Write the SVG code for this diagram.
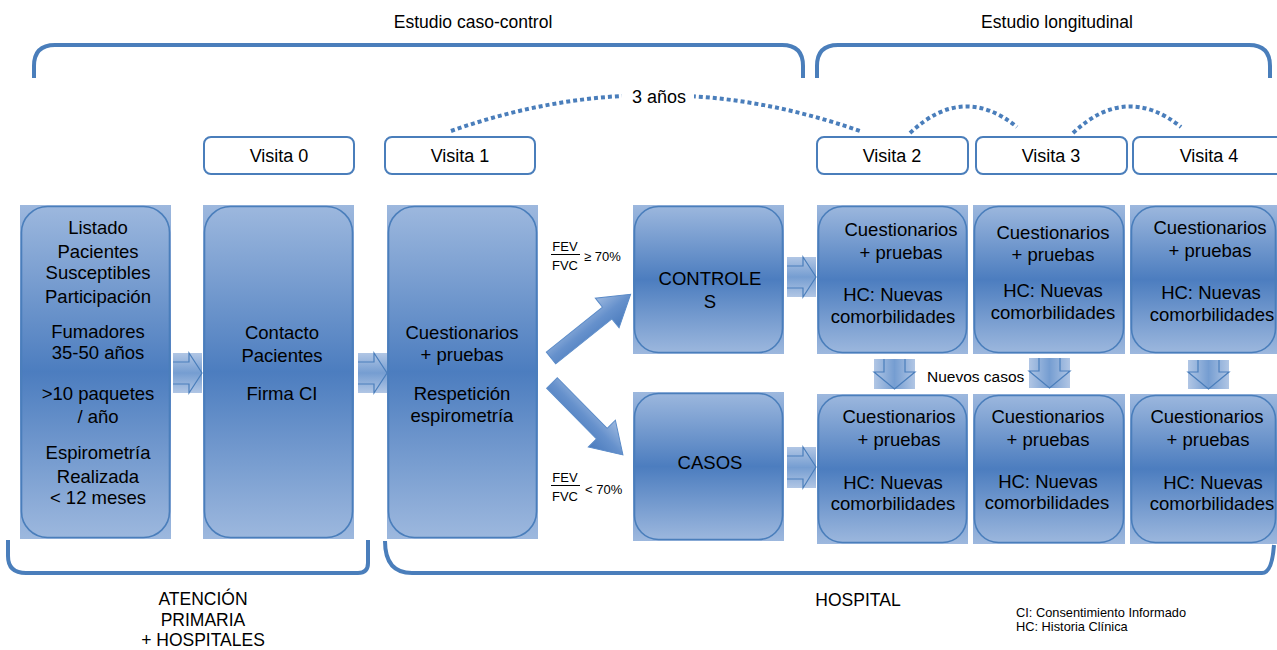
<svg xmlns="http://www.w3.org/2000/svg" width="1277" height="650" viewBox="0 0 1277 650">
<defs>
<linearGradient id="gBox" x1="0" y1="0" x2="0" y2="1">
<stop offset="0" stop-color="#9db8de"/>
<stop offset="0.5" stop-color="#4c7dbf"/>
<stop offset="1" stop-color="#9db8de"/>
</linearGradient>
<linearGradient id="gArr" x1="0" y1="0" x2="0" y2="1">
<stop offset="0" stop-color="#a3bce0"/>
<stop offset="0.5" stop-color="#5d8cc9"/>
<stop offset="1" stop-color="#a3bce0"/>
</linearGradient>
<linearGradient id="gArrH" x1="0" y1="0" x2="1" y2="0">
<stop offset="0" stop-color="#a3bce0"/>
<stop offset="0.5" stop-color="#5d8cc9"/>
<stop offset="1" stop-color="#a3bce0"/>
</linearGradient>
<linearGradient id="gBig" x1="0" y1="0" x2="0" y2="1">
<stop offset="0" stop-color="#9fbae0"/>
<stop offset="0.5" stop-color="#6691cc"/>
<stop offset="1" stop-color="#4a7bbd"/>
</linearGradient>
</defs>
<style>
text{font-family:"Liberation Sans",Arial,sans-serif;fill:#000}
.t{font-size:18.5px;text-anchor:middle}
.h{font-size:17.5px;text-anchor:middle}
.v{font-size:18px;text-anchor:middle}
.s{font-size:13px}
.sc{font-size:13px;text-anchor:middle}
.leg{font-size:12.8px}
.bg{fill:url(#gBox)}
.rr{fill:none;stroke:#4a7ebb;stroke-width:1.6}
.lab{fill:#fff;stroke:#4a7ebb;stroke-width:2}
.br{fill:none;stroke:#4a7ebb;stroke-width:4;stroke-linecap:butt}
.dot{fill:none;stroke:#4a7ebb;stroke-width:4;stroke-dasharray:4 3}
.sq{fill:url(#gArr);opacity:0.85}
.sqh{fill:url(#gArrH);opacity:0.85}
.ao{fill:none;stroke:#4a7ebb;stroke-width:1.2}
.big{fill:url(#gBig);stroke:#5b8bc8;stroke-width:1}
.fl{stroke:#000;stroke-width:1}
</style>

<!-- header texts -->
<text class="h" x="473" y="28">Estudio caso-control</text>
<text class="h" x="1057" y="28">Estudio longitudinal</text>

<g id="brackets">
<path class="br" d="M34 78 V66 Q34 45 55 45 H782 Q803 45 803 66 V78"/>
<path class="br" d="M817 78 V66 Q817 45 838 45 H1249 Q1270 45 1270 66 V78"/>
<path class="br" d="M8 540 V556 Q8 573 26 573 H358 Q368 573 368 563 V540"/>
<path class="br" d="M385 541 Q385 573 412 573 H1262 Q1272 573 1274 545"/>
</g>

<g id="connectors">
<path class="dot" d="M451 131 Q655 59 860 131"/>
<rect x="622" y="86" width="72" height="24" fill="#fff"/>
<path class="dot" d="M910 133 Q963 83 1017 127"/>
<path class="dot" d="M1073 133 Q1126 83 1181 127"/>
<!-- right block arrows -->
<g id="a1"><rect class="sq" x="173" y="353" width="29" height="40"/><path class="ao" d="M173 362 H189 V353 L202 373 L189 393 V384 H173"/></g>
<g id="a2"><rect class="sq" x="358" y="353" width="29" height="40"/><path class="ao" d="M358 362 H374 V353 L387 373 L374 393 V384 H358"/></g>
<g id="a3"><rect class="sq" x="787" y="257" width="29" height="40"/><path class="ao" d="M787 266 H803 V257 L816 277 L803 297 V288 H787"/></g>
<g id="a4"><rect class="sq" x="787" y="447" width="29" height="41"/><path class="ao" d="M787 456 H803 V447 L816 467 L803 488 V479 H787"/></g>
<!-- down block arrows -->
<g id="d1"><rect class="sqh" x="874" y="359" width="41" height="30"/><path class="ao" d="M884 359 V372 H874 L894.5 389 L915 372 H905 V359"/></g>
<g id="d2"><rect class="sqh" x="1029" y="358" width="41" height="30"/><path class="ao" d="M1039 358 V371 H1029 L1049.5 388 L1070 371 H1060 V358"/></g>
<g id="d3"><rect class="sqh" x="1188" y="360" width="41" height="29"/><path class="ao" d="M1198 360 V372 H1188 L1208.5 389 L1229 372 H1219 V360"/></g>
<!-- big diagonal arrows -->
<path class="big" transform="translate(551,358) rotate(-38.7)" d="M0 -7.5 H72 V-19 L102 0 L72 19 V7.5 H0 Z"/>
<path class="big" transform="translate(552,383) rotate(45.4)" d="M0 -7.5 H71 V-19 L101 0 L71 19 V7.5 H0 Z"/>
</g>

<text class="v" x="659" y="103">3 años</text>
<text x="927" y="382" style="font-size:15.5px">Nuevos casos</text>

<!-- fractions -->
<g id="frac1">
<text class="sc" x="565" y="251">FEV</text>
<line class="fl" x1="551" y1="254.5" x2="580" y2="254.5"/>
<text class="sc" x="565" y="270">FVC</text>
<text class="s" x="584" y="261">≥ 70%</text>
</g>
<g id="frac2">
<text class="sc" x="565" y="482">FEV</text>
<line class="fl" x1="551" y1="485.5" x2="580" y2="485.5"/>
<text class="sc" x="565" y="501">FVC</text>
<text class="s" x="585" y="494">&lt; 70%</text>
</g>

<!-- visit labels -->
<g id="v0"><rect class="lab" x="204" y="137" width="150" height="37" rx="7"/><text class="v" x="279" y="162">Visita 0</text></g>
<g id="v1"><rect class="lab" x="385" y="137" width="150" height="37" rx="7"/><text class="v" x="460" y="162">Visita 1</text></g>
<g id="v2"><rect class="lab" x="817" y="137" width="151" height="37" rx="7"/><text class="v" x="892" y="162">Visita 2</text></g>
<g id="v3"><rect class="lab" x="976" y="137" width="151" height="37" rx="7"/><text class="v" x="1051" y="162">Visita 3</text></g>
<g id="v4"><rect class="lab" x="1133" y="137" width="155" height="37" rx="7"/><text class="v" x="1209" y="162">Visita 4</text></g>

<!-- main boxes -->
<g id="listado">
<rect class="bg" x="20" y="205" width="151" height="334"/>
<rect class="rr" x="21.5" y="206.5" width="148" height="331" rx="26"/>
<text class="t" x="98" y="234">Listado</text>
<text class="t" x="98" y="258">Pacientes</text>
<text class="t" x="98" y="279">Susceptibles</text>
<text class="t" x="98" y="303">Participación</text>
<text class="t" x="98" y="338">Fumadores</text>
<text class="t" x="98" y="359">35-50 años</text>
<text class="t" x="98" y="400">&gt;10 paquetes</text>
<text class="t" x="98" y="423">/ año</text>
<text class="t" x="98" y="459">Espirometría</text>
<text class="t" x="98" y="483">Realizada</text>
<text class="t" x="98" y="504">&lt; 12 meses</text>
</g>
<g id="contacto">
<rect class="bg" x="203" y="205" width="151" height="334"/>
<rect class="rr" x="204.5" y="206.5" width="148" height="331" rx="26"/>
<text class="t" x="282" y="339">Contacto</text>
<text class="t" x="282" y="362">Pacientes</text>
<text class="t" x="282" y="400">Firma CI</text>
</g>
<g id="visita1box">
<rect class="bg" x="387" y="205" width="151" height="334"/>
<rect class="rr" x="388.5" y="206.5" width="148" height="331" rx="26"/>
<text class="t" x="462" y="339">Cuestionarios</text>
<text class="t" x="462" y="361">+ pruebas</text>
<text class="t" x="462" y="400">Respetición</text>
<text class="t" x="462" y="422">espirometría</text>
</g>
<g id="controles">
<rect class="bg" x="633" y="205" width="151" height="149"/>
<rect class="rr" x="634.5" y="206.5" width="148" height="146" rx="24"/>
<text class="t" x="710" y="285">CONTROLE</text>
<text class="t" x="710" y="308">S</text>
</g>
<g id="casos">
<rect class="bg" x="633" y="392" width="151" height="149"/>
<rect class="rr" x="634.5" y="393.5" width="148" height="146" rx="24"/>
<text class="t" x="710" y="469">CASOS</text>
</g>

<g id="v2top">
<rect class="bg" x="817" y="205" width="151" height="149"/>
<rect class="rr" x="818.5" y="206.5" width="148" height="146" rx="24"/>
<text class="t" x="901" y="236">Cuestionarios</text>
<text class="t" x="901" y="259">+ pruebas</text>
<text class="t" x="893" y="301">HC: Nuevas</text>
<text class="t" x="893" y="323">comorbilidades</text>
</g>
<g id="v3top">
<rect class="bg" x="973" y="205" width="152" height="149"/>
<rect class="rr" x="974.5" y="206.5" width="149" height="146" rx="24"/>
<text class="t" x="1053" y="239">Cuestionarios</text>
<text class="t" x="1053" y="261">+ pruebas</text>
<text class="t" x="1053" y="297">HC: Nuevas</text>
<text class="t" x="1053" y="319">comorbilidades</text>
</g>
<g id="v4top">
<rect class="bg" x="1130" y="205" width="147" height="149"/>
<rect class="rr" x="1131.5" y="206.5" width="144" height="146" rx="24"/>
<text class="t" x="1210" y="234">Cuestionarios</text>
<text class="t" x="1210" y="257">+ pruebas</text>
<text class="t" x="1211" y="299">HC: Nuevas</text>
<text class="t" x="1212" y="321">comorbilidades</text>
</g>
<g id="v2bot">
<rect class="bg" x="817" y="394" width="151" height="150"/>
<rect class="rr" x="818.5" y="395.5" width="148" height="147" rx="24"/>
<text class="t" x="899" y="423">Cuestionarios</text>
<text class="t" x="899" y="446">+ pruebas</text>
<text class="t" x="893" y="489">HC: Nuevas</text>
<text class="t" x="893" y="510">comorbilidades</text>
</g>
<g id="v3bot">
<rect class="bg" x="973" y="394" width="152" height="150"/>
<rect class="rr" x="974.5" y="395.5" width="149" height="147" rx="24"/>
<text class="t" x="1048" y="423">Cuestionarios</text>
<text class="t" x="1048" y="446">+ pruebas</text>
<text class="t" x="1048" y="488">HC: Nuevas</text>
<text class="t" x="1047" y="509">comorbilidades</text>
</g>
<g id="v4bot">
<rect class="bg" x="1130" y="394" width="147" height="150"/>
<rect class="rr" x="1131.5" y="395.5" width="144" height="147" rx="24"/>
<text class="t" x="1207" y="423">Cuestionarios</text>
<text class="t" x="1208" y="446">+ pruebas</text>
<text class="t" x="1213" y="489">HC: Nuevas</text>
<text class="t" x="1212" y="510">comorbilidades</text>
</g>

<!-- bottom texts -->
<text class="h" x="203" y="605">ATENCIÓN</text>
<text class="h" x="203" y="626">PRIMARIA</text>
<text class="h" x="203" y="646">+ HOSPITALES</text>
<text class="h" x="858" y="606">HOSPITAL</text>
<text class="leg" x="1016" y="617">CI: Consentimiento Informado</text>
<text class="leg" x="1016" y="631">HC: Historia Clínica</text>
</svg>
